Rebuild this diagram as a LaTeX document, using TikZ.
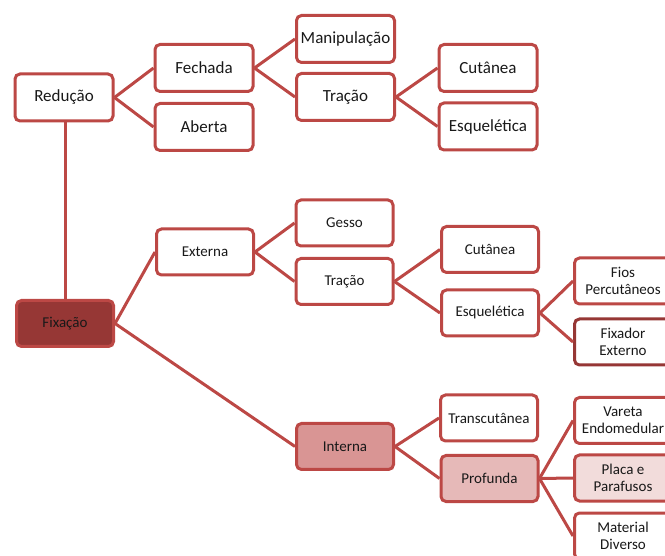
\documentclass[tikz,border=0pt]{standalone}
\usepackage{fontspec}
\setmainfont{Carlito}
\usetikzlibrary{positioning}

\definecolor{boxred}{RGB}{188,72,69}
\definecolor{darkred}{RGB}{150,55,53}
\definecolor{midred}{RGB}{217,149,148}
\definecolor{lightred}{RGB}{230,185,184}
\definecolor{palered}{RGB}{242,220,219}

\begin{document}
\begin{tikzpicture}[
  x=1pt, y=-1pt,
  topbox/.style={draw=boxred, line width=3pt, rounded corners=5pt, fill=white, text=black!90,
    minimum width=98pt, minimum height=47pt, inner sep=1pt, align=center,
    font=\fontsize{17}{19}\selectfont},
  lowbox/.style={topbox, minimum width=97pt, minimum height=46pt,
    font=\fontsize{15}{17}\selectfont},
  link/.style={draw=boxred, line width=3pt}
]
\clip (0,0) rectangle (665,556);

\node[topbox] (red) at (64, 97.5) {Redução};
\node[topbox] (fech) at (204, 68) {Fechada};
\node[topbox] (aber) at (204, 127) {Aberta};
\node[topbox] (manip) at (345.5, 39) {Manipulação};
\node[topbox] (trac1) at (345.5, 97) {Tração};
\node[topbox] (cut1) at (488, 68) {Cutânea};
\node[topbox] (esq1) at (488, 126.5) {Esquelética};

\node[lowbox, fill=darkred, draw=boxred] (fix) at (65, 323.5) {Fixação};
\node[lowbox] (ext) at (205, 252) {Externa};
\node[lowbox] (gesso) at (344.5, 223) {Gesso};
\node[lowbox] (trac2) at (344.5, 281.5) {Tração};
\node[lowbox] (cut2) at (490, 249.5) {Cutânea};
\node[lowbox] (esq2) at (490, 313) {Esquelética};
\node[lowbox] (fios) at (623, 281) {Fios\\Percutâneos};
\node[lowbox, draw=darkred] (fixext) at (623, 342) {Fixador\\Externo};
\node[lowbox, fill=midred] (int) at (345, 446.5) {Interna};
\node[lowbox] (transc) at (489, 418) {Transcutânea};
\node[lowbox, fill=lightred] (prof) at (489.5, 478.5) {Profunda};
\node[lowbox] (var) at (623, 420.5) {Vareta\\Endomedular};
\node[lowbox, fill=palered] (placa) at (623, 478) {Placa e\\Parafusos};
\node[lowbox] (mat) at (623, 536) {Material\\Diverso};

\draw[link] (fix.north) -- (fix.north |- red.south);
\draw[link] (red.east) -- (fech.west);
\draw[link] (red.east) -- (aber.west);
\draw[link] (fech.east) -- (manip.west);
\draw[link] (fech.east) -- (trac1.west);
\draw[link] (trac1.east) -- (cut1.west);
\draw[link] (trac1.east) -- (esq1.west);
\draw[link] (fix.east) -- (ext.west);
\draw[link] (fix.east) -- (int.west);
\draw[link] (ext.east) -- (gesso.west);
\draw[link] (ext.east) -- (trac2.west);
\draw[link] (trac2.east) -- (cut2.west);
\draw[link] (trac2.east) -- (esq2.west);
\draw[link] (esq2.east) -- (fios.west);
\draw[link] (esq2.east) -- (fixext.west);
\draw[link] (int.east) -- (transc.west);
\draw[link] (int.east) -- (prof.west);
\draw[link] (prof.east) -- (var.west);
\draw[link] (prof.east) -- (placa.west);
\draw[link] (prof.east) -- (mat.west);

\end{tikzpicture}
\end{document}
